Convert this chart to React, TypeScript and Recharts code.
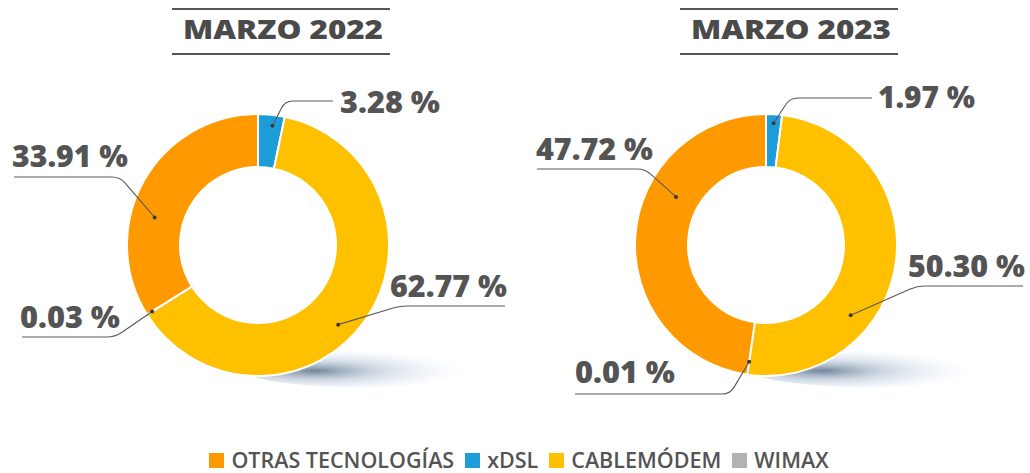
import { PieChart, Pie, Cell, Legend } from "recharts";

// slices run clockwise from 12 o'clock in this order
const SLICE_NAMES = ["xDSL", "CABLEMÓDEM", "WIMAX", "OTRAS TECNOLOGÍAS"];
const VALUES_2022 = [3.28, 62.77, 0.03, 33.91];
const VALUES_2023 = [1.97, 50.3, 0.01, 47.72];
const TITLES = ["MARZO 2022", "MARZO 2023"];
const LEGEND_ORDER = ["OTRAS TECNOLOGÍAS", "xDSL", "CABLEMÓDEM", "WIMAX"];

const COLORS: Record<string, string> = {
  "OTRAS TECNOLOGÍAS": "#FF9900",
  xDSL: "#1E9CD8",
  CABLEMÓDEM: "#FFC000",
  WIMAX: "#B2B2B2",
};

const TEXT = "#545454";
const W = 1030;
const H = 473;
const CENTERS = [258, 766];
const CY = 245;

// label placement relative to the pie centre (dx/dy), line from far end to near end, dot angle shift
type LabelPos = { tx: number; ty: number; tw: number; ly: number; far: number; near: number; shift: number; r: number };
const LABELS_2022: Record<string, LabelPos> = {
  xDSL: { tx: 82, ty: -132, tw: 100, ly: -144, far: 75, near: 27, shift: 1, r: -11 },
  "OTRAS TECNOLOGÍAS": { tx: -246, ty: -78, tw: 116, ly: -68, far: -244, near: -138, shift: -14, r: -24 },
  WIMAX: { tx: -238, ty: 83, tw: 100, ly: 92, far: -236, near: -143, shift: 0, r: -6 },
  CABLEMÓDEM: { tx: 132, ty: 52, tw: 117, ly: 61, far: 247, near: 142, shift: 10, r: -18 },
};
const LABELS_2023: Record<string, LabelPos> = {
  xDSL: { tx: 112, ty: -137, tw: 97, ly: -147, far: 106, near: 24, shift: 0, r: -9 },
  "OTRAS TECNOLOGÍAS": { tx: -230, ty: -85, tw: 117, ly: -76, far: -229, near: -121, shift: 24, r: -29 },
  WIMAX: { tx: -191, ty: 138, tw: 100, ly: 149, far: -191, near: -36, shift: 0, r: -13 },
  CABLEMÓDEM: { tx: 142, ty: 32, tw: 117, ly: 41, far: 257, near: 151, shift: 32, r: -21 },
};

const data2022 = SLICE_NAMES.map((name, i) => ({ name, value: VALUES_2022[i] }));
const data2023 = SLICE_NAMES.map((name, i) => ({ name, value: VALUES_2023[i] }));

const RAD = Math.PI / 180;

const makeLabel = (layout: Record<string, LabelPos>) => (props: any) => {
  const { cx, cy, midAngle, outerRadius, value } = props;
  const name = props.payload?.name ?? props.name;
  const l = layout[name];
  if (!l) return null;
  const theta = (90 - midAngle + l.shift) * RAD;
  const r = outerRadius + l.r;
  const dx = cx + r * Math.sin(theta);
  const dy = cy - r * Math.cos(theta);
  const ly = cy + l.ly;
  const fx = cx + l.far;
  const nx = cx + l.near;
  const dir = Math.sign(nx - fx);
  const len = Math.hypot(dx - nx, dy - ly);
  const k = Math.min(8, len / 2);
  const ex = nx + ((dx - nx) / len) * k;
  const ey = ly + ((dy - ly) / len) * k;
  const path = `M${fx},${ly} L${nx - dir * k},${ly} Q${nx},${ly} ${ex},${ey} L${dx},${dy}`;
  return (
    <g>
      <path d={path} stroke="#5a5a5a" strokeWidth={1.1} fill="none" />
      <circle cx={dx} cy={dy} r={2} fill="#3a3a3a" />
      <text
        x={cx + l.tx}
        y={cy + l.ty}
        fill={TEXT}
        fontSize={30}
        fontWeight={800}
        fontFamily="'Open Sans', sans-serif"
        textLength={l.tw}
        lengthAdjust="spacingAndGlyphs"
      >
        {`${value.toFixed(2)} %`}
      </text>
    </g>
  );
};

function LegendContent() {
  return (
    <div
      style={{
        display: "flex",
        justifyContent: "center",
        alignItems: "center",
        gap: 11,
        fontFamily: "'Open Sans', sans-serif",
        fontSize: 21.5,
        fontWeight: 600,
        color: TEXT,
        marginLeft: 8,
      }}
    >
      {LEGEND_ORDER.map((name) => (
        <div key={name} style={{ display: "flex", alignItems: "center", gap: 7 }}>
          <span style={{ width: 15, height: 15, background: COLORS[name], display: "inline-block" }} />
          <span style={{ lineHeight: "26px" }}>{name}</span>
        </div>
      ))}
    </div>
  );
}

function Decor() {
  return (
    <svg width={W} height={H} style={{ position: "absolute", left: 0, top: 0 }}>
      <defs>
        <radialGradient id="shade" cx="30%" cy="55%" r="65%">
          <stop offset="0%" stopColor="#5a6f89" stopOpacity={0.85} />
          <stop offset="40%" stopColor="#a3b6cb" stopOpacity={0.5} />
          <stop offset="75%" stopColor="#d8e2ee" stopOpacity={0.28} />
          <stop offset="100%" stopColor="#ffffff" stopOpacity={0} />
        </radialGradient>
      </defs>
      {CENTERS.map((cx, i) => (
        <g key={i}>
          <ellipse cx={cx + 105} cy={CY + 124} rx={122} ry={18} fill="url(#shade)" />
          <line x1={cx - 86} x2={cx + 132} y1={9} y2={9} stroke="#555" strokeWidth={2.2} />
          <line x1={cx - 86} x2={cx + 132} y1={54} y2={54} stroke="#555" strokeWidth={2.2} />
          <text
            x={cx + 25}
            y={39}
            textAnchor="middle"
            fill="#4a4a4a"
            fontSize={27}
            fontWeight={800}
            fontFamily="'Open Sans', sans-serif"
            textLength={200}
            lengthAdjust="spacingAndGlyphs"
          >
            {TITLES[i]}
          </text>
        </g>
      ))}
    </svg>
  );
}

export default function App() {
  return (
    <div style={{ position: "absolute", left: 0, top: 0, width: W, height: H, background: "#fff" }}>
      <Decor />
      <div style={{ position: "absolute", left: 0, top: 0 }}>
        <PieChart width={W} height={H} margin={{ top: 0, right: 0, bottom: 0, left: 0 }}>
          <Pie
            data={data2022}
            dataKey="value"
            nameKey="name"
            cx={CENTERS[0]}
            cy={CY}
            innerRadius={78}
            outerRadius={131}
            startAngle={90}
            endAngle={-270}
            stroke="#fff"
            strokeWidth={2}
            label={makeLabel(LABELS_2022)}
            labelLine={false}
            isAnimationActive={false}
          >
            {data2022.map((d) => (
              <Cell key={d.name} fill={COLORS[d.name]} stroke={d.name === "WIMAX" ? COLORS.WIMAX : "#fff"} />
            ))}
          </Pie>
          <Pie
            data={data2023}
            dataKey="value"
            nameKey="name"
            cx={CENTERS[1]}
            cy={CY}
            innerRadius={78}
            outerRadius={131}
            startAngle={90}
            endAngle={-270}
            stroke="#fff"
            strokeWidth={2}
            label={makeLabel(LABELS_2023)}
            labelLine={false}
            isAnimationActive={false}
          >
            {data2023.map((d) => (
              <Cell key={d.name} fill={COLORS[d.name]} stroke={d.name === "WIMAX" ? COLORS.WIMAX : "#fff"} />
            ))}
          </Pie>
          <Legend
            verticalAlign="bottom"
            content={() => <LegendContent />}
            wrapperStyle={{ bottom: 0, left: 0, width: W }}
          />
        </PieChart>
      </div>
    </div>
  );
}
